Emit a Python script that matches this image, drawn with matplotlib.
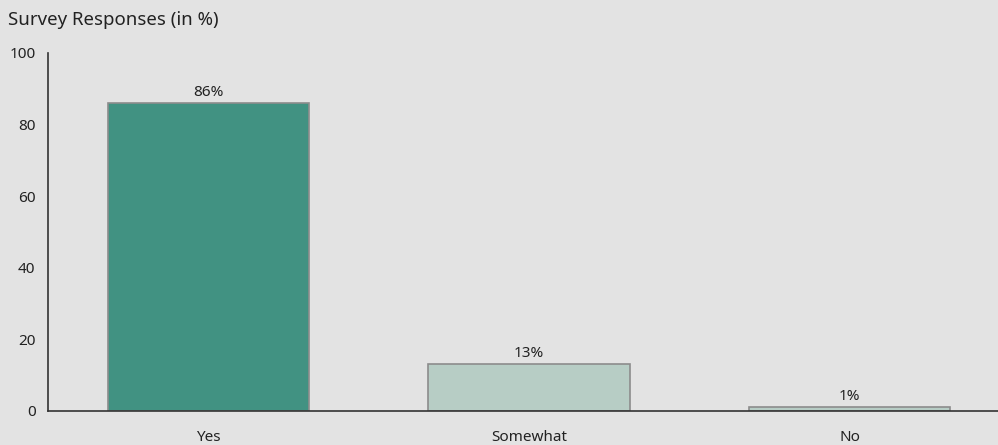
import matplotlib
matplotlib.use("Agg")
import matplotlib.pyplot as plt

# survey results, percent of respondents
categories = ["Yes", "Somewhat", "No"]
values = [86, 13, 1]
bar_colors = ["#419282", "#b7cdc5", "#b7cdc5"]
y_ticks = [0, 20, 40, 60, 80, 100]

plt.rcParams["font.family"] = ["Noto Sans", "DejaVu Sans"]

fig = plt.figure(figsize=(9.98, 4.45), dpi=100, facecolor="#e3e3e3")
ax = fig.add_axes([48 / 998, 1 - 411 / 445, 950 / 998, 358 / 445])
ax.set_facecolor("#e3e3e3")

x = range(len(categories))
bars = ax.bar(x, values, width=0.627, color=bar_colors, edgecolor="#8c8c8c", linewidth=1.2)
for b, v in zip(bars, values):
    ax.annotate(f"{v}%", (b.get_x() + b.get_width() / 2, v), xytext=(0, 2.5),
                textcoords="offset points", ha="center", va="bottom",
                fontsize=11, color="#222222")

ax.set_xlim(-0.5, 2.4626)
ax.set_ylim(0, 100)
ax.set_xticks(list(x))
ax.set_xticklabels(categories)
ax.set_yticks(y_ticks)
ax.tick_params(axis="both", length=0, labelsize=11, colors="#222222")
ax.tick_params(axis="y", pad=9)
ax.tick_params(axis="x", pad=14)

for s in ["top", "right"]:
    ax.spines[s].set_visible(False)
for s in ["left", "bottom"]:
    ax.spines[s].set_color("#333333")
    ax.spines[s].set_linewidth(1.2)

fig.text(8 / 998, 1 - 20 / 445, "Survey Responses (in %)", ha="left", va="center",
         fontsize=13.4, color="#222222")

fig.savefig("out.png", dpi=100, facecolor=fig.get_facecolor())
